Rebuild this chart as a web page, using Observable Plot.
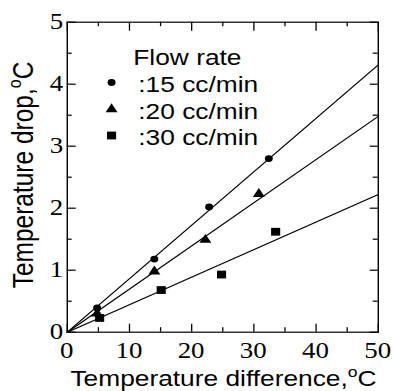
<!DOCTYPE html>
<html><head><meta charset="utf-8">
<script src="https://cdn.jsdelivr.net/npm/d3@7"></script>
<script src="https://cdn.jsdelivr.net/npm/@observablehq/plot@0.6"></script>
<style>html,body{margin:0;padding:0;background:#fff;} #chart svg{display:block}</style>
</head><body><div id="chart"></div>
<script>
// ---- data ----
const flowRates = [":15 cc/min", ":20 cc/min", ":30 cc/min"];
const symbols = ["circle", "triangle", "square"];
const tempDiff15 = [4.8, 14.0, 22.8, 32.4];
const tempDrop15 = [0.39, 1.18, 2.02, 2.80];
const tempDiff20 = [4.8, 14.0, 22.2, 30.8];
const tempDrop20 = [0.30, 0.98, 1.49, 2.23];
const tempDiff30 = [5.2, 15.1, 24.8, 33.5];
const tempDrop30 = [0.23, 0.68, 0.93, 1.62];
const fitStartX = 0, fitEndX = 50;
const fitAtEnd = [4.31, 3.48, 2.22];
const xTicks = [0, 10, 20, 30, 40, 50];
const xMinor = [5, 15, 25, 35, 45];
const yTicks = [0, 1, 2, 3, 4, 5];
const yMinor = [0.5, 1.5, 2.5, 3.5, 4.5];
const xTitle = "Temperature difference,";
const yTitle = "Temperature drop,";
const legendTitle = "Flow rate";

// ---- layout ----
const S = 1.17;            // horizontal stretch of the original picture
const PW = 393, PH = 391;
const W = PW / S;
const mL = 66.7 / S, mR = 15.3 / S, mT = 21.7, mB = 59.3;
const innerW = W - mL - mR, innerH = PH - mT - mB;

const xs = [tempDiff15, tempDiff20, tempDiff30];
const ys = [tempDrop15, tempDrop20, tempDrop30];
const series = xs.map((xa, i) => xa.map((x, j) => ({x, y: ys[i][j], s: i})));
const fits = fitAtEnd.map((v, i) => [{x: fitStartX, y: 0, s: i}, {x: fitEndX, y: v, s: i}]);
const radii = [3.4, 3.8, 4.4];

const legendSymY = [82, 108.7, 135];
const legendBase = [92, 119, 145.5];

const marks = [
  Plot.frame({stroke: "black", strokeWidth: 1.2}),
  // inward ticks
  Plot.ruleX(xTicks, {x: d => d, insetTop: innerH - 8, strokeWidth: 1.1}),
  Plot.ruleX(xMinor, {x: d => d, insetTop: innerH - 4.5, strokeWidth: 1.1}),
  Plot.ruleX(xTicks, {x: d => d, insetBottom: innerH - 9, strokeWidth: 1.1}),
  Plot.ruleX(xMinor, {x: d => d, insetBottom: innerH - 4.5, strokeWidth: 1.1}),
  Plot.ruleY(yTicks, {y: d => d, insetRight: innerW - 7.7, strokeWidth: 1.2}),
  Plot.ruleY(yMinor, {y: d => d, insetRight: innerW - 4.3, strokeWidth: 1.2}),
  Plot.ruleY(yTicks, {y: d => d, insetLeft: innerW - 6.8, strokeWidth: 1.2}),
  Plot.ruleY(yMinor, {y: d => d, insetLeft: innerW - 4.3, strokeWidth: 1.2}),
  ...fits.map(f => Plot.line(f, {x: "x", y: "y", stroke: "black", strokeWidth: 1.1})),
  ...series.map((d, i) => Plot.dot(d, {x: "x", y: "y", symbol: symbols[i], r: radii[i], fill: "black", stroke: "none"})),
  ...flowRates.map((f, i) => Plot.dot([f], {frameAnchor: "top-left", dx: 111 / S - mL, dy: legendSymY[i] - mT, symbol: symbols[i], r: radii[i], fill: "black", stroke: "none"}))
];

const svg = Plot.plot({
  width: W, height: PH,
  marginLeft: mL, marginRight: mR, marginTop: mT, marginBottom: mB,
  x: {domain: [0, 50], axis: null},
  y: {domain: [0, 5], axis: null},
  marks
});

const xScale = svg.scale("x"), yScale = svg.scale("y");
const g = d3.select(svg);
svg.removeAttribute("font-family");
// serif tick labels positioned with Plot's scales
const tl = g.append("g").attr("aria-label", "tick labels").attr("fill", "black");
xTicks.forEach(t => {
  tl.append("text").attr("x", xScale.apply(t)).attr("y", PH - mB + 26).attr("text-anchor", "middle")
    .attr("font-family", "Liberation Serif").attr("font-size", 23).text(String(t));
});
yTicks.forEach(t => {
  tl.append("text").attr("x", mL - 3).attr("y", yScale.apply(t) + 7.6).attr("text-anchor", "end")
    .attr("font-family", "Liberation Serif").attr("font-size", 23).text(String(t));
});
// legend text
g.append("text").attr("x", 133.3 / S).attr("y", 65.5).attr("text-anchor", "start")
  .attr("font-family", "Liberation Sans").attr("font-size", 22.5).attr("fill", "black").text(legendTitle);
flowRates.forEach((f, i) => {
  g.append("text").attr("x", 138.3 / S).attr("y", legendBase[i]).attr("text-anchor", "start")
    .attr("font-family", "Liberation Sans").attr("font-size", 22.5).attr("fill", "black").text(f);
});
// x title
const xt = g.append("text").attr("x", 223.5 / S).attr("y", 386.5).attr("text-anchor", "middle")
  .attr("font-family", "Liberation Sans").attr("font-size", 22.5).attr("fill", "black");
xt.append("tspan").text(xTitle);
xt.append("tspan").attr("font-size", 15).attr("dy", -9.5).text("o");
xt.append("tspan").attr("dy", 9.5).text("C");
// y title
const yt = g.append("text").attr("transform", `translate(${33 / S},175) rotate(-90)`).attr("text-anchor", "middle")
  .attr("font-family", "Liberation Sans").attr("font-size", 24.5).attr("fill", "black");
yt.append("tspan").text(yTitle);
yt.append("tspan").attr("font-size", 16).attr("dy", -10).text("o");
yt.append("tspan").attr("dy", 10).text("C");

svg.setAttribute("width", PW);
svg.setAttribute("height", PH);
svg.setAttribute("viewBox", `0 0 ${W} ${PH}`);
svg.setAttribute("preserveAspectRatio", "none");
svg.setAttribute("style", `width:${PW}px;height:${PH}px;max-width:none;display:block;background:white`);
document.getElementById("chart").appendChild(svg);
</script>
</body></html>
